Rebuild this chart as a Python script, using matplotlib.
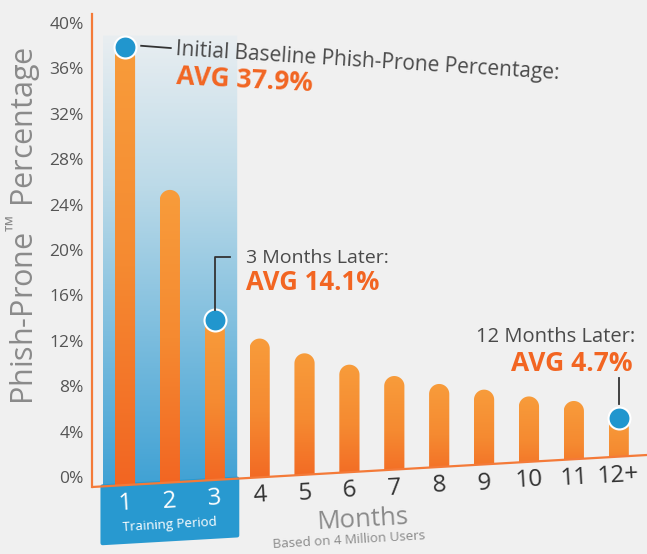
import numpy as np
import matplotlib.pyplot as plt
from matplotlib.patches import PathPatch, Polygon
from matplotlib.path import Path
from matplotlib.colors import LinearSegmentedColormap

plt.rcParams['font.family'] = ['Open Sans', 'DejaVu Sans']
plt.rcParams['mathtext.fontset'] = 'custom'
plt.rcParams['mathtext.rm'] = 'Open Sans'

# data
months = ["1", "2", "3", "4", "5", "6", "7", "8", "9", "10", "11", "12+"]
rates = [37.9, 25.3, 13.8, 12.2, 10.9, 9.9, 8.9, 8.2, 7.7, 7.1, 6.7, 5.2]
yticks = [0, 4, 8, 12, 16, 20, 24, 28, 32, 36, 40]
training = 3   # first three months are the training period

bg = "#F0F0F0"
orange_axis = "#F47A38"
orange_txt = "#F26522"
blue_dot = "#2196CE"
gray_txt = "#8A8A8A"
dark_txt = "#4A4A4A"

fig = plt.figure(figsize=(6.47, 5.54), dpi=100, facecolor=bg)
ax = fig.add_axes([92/647, 1-487/554, 555/647, 473/554])
ax.set_facecolor("none")

xlo, xhi = 0.265, 12.63
ylo, yhi = -0.88, 40.8
ax.set_xlim(xlo, xhi)
ax.set_ylim(ylo, yhi)

# the baseline tilts up to the right
tilt = 32/473
def base_y(x):
    return ylo + tilt*(yhi-ylo)*(x-xlo)/(xhi-xlo)

ang = np.degrees(np.arctan(32/555))

# px per data unit, to keep the round caps circular
px_x = 555/(xhi-xlo)
px_y = 473/(yhi-ylo)

xs = np.arange(1, len(months)+1)
w = 0.45
half = w/2
ry = half*px_x/px_y

grad = np.linspace(0, 1, 256).reshape(-1, 1)
bar_cmap = LinearSegmentedColormap.from_list("bar", ["#F26522", "#F58A31", "#F89C3B"])
blue_cmap = LinearSegmentedColormap.from_list("blu", ["#3FA1D4", "#7CBDDE", "#BCDAE8", "#E9EEF1"])

# training period shading
tx0, tx1 = 0.5, training+0.5
up = Polygon([(tx0, base_y(tx0)), (tx1, base_y(tx1)), (tx1, 38.9), (tx0, 38.9)],
             closed=True, transform=ax.transData, facecolor="none", edgecolor="none")
im = ax.imshow(grad, extent=(tx0, tx1, ylo, 38.9), origin="lower", aspect="auto",
               cmap=blue_cmap, zorder=1, interpolation="bilinear")
im.set_clip_path(up)

hb = 5.0
low = Polygon([(tx0, base_y(tx0)), (tx1, base_y(tx1)), (tx1, base_y(tx1)-hb), (tx0, base_y(tx0)-hb)],
              closed=True, facecolor="#2899D0", edgecolor="#2899D0", lw=3, joinstyle="round",
              clip_on=False, zorder=1)
ax.add_patch(low)

# bars with rounded tops and gradient fill
t = np.linspace(0, np.pi, 40)
for x, v in zip(xs, rates):
    verts = [(x-half, base_y(x-half)), (x+half, base_y(x+half))]
    verts += list(zip(x + half*np.cos(t), v - ry + ry*np.sin(t)))
    verts.append(verts[0])
    shape = PathPatch(Path(verts, closed=True), transform=ax.transData,
                      facecolor="none", edgecolor="none")
    bi = ax.imshow(grad, extent=(x-half, x+half, ylo, v), origin="lower", aspect="auto",
                   cmap=bar_cmap, zorder=3, interpolation="bilinear")
    bi.set_clip_path(shape)

ax.set_xlim(xlo, xhi)
ax.set_ylim(ylo, yhi)

# axes lines
ax.plot([xlo, xhi], [base_y(xlo), base_y(xhi)], color=orange_axis, lw=1.6, zorder=4,
        clip_on=False, solid_capstyle="butt")
for s in ["top", "right", "bottom"]:
    ax.spines[s].set_visible(False)
ax.spines["left"].set_color(orange_axis)
ax.spines["left"].set_linewidth(1.6)

ax.set_xticks([])
ax.set_yticks(yticks)
ax.set_yticklabels([f"{v}%" for v in yticks])
ax.tick_params(axis="y", length=0, pad=6, labelsize=12.5, labelcolor="#555555")

# month labels follow the tilted baseline
for i, (x, lab) in enumerate(zip(xs, months)):
    col = "white" if i < training else "#333333"
    ax.text(x, base_y(x)-1.65, lab, ha="center", va="center", rotation=ang,
            rotation_mode="anchor", fontsize=17.5, color=col, zorder=6, clip_on=False)

ax.text(2.0, -4.25, "Training Period", ha="center", va="center", rotation=ang,
        rotation_mode="anchor", fontsize=9.5, color="white", zorder=6)
ax.text(6.30, -3.75, "Months", ha="center", va="center", rotation=ang,
        rotation_mode="anchor", fontsize=18.5, color=gray_txt, zorder=6)
ax.text(5.99, -5.55, "Based on 4 Million Users", ha="center", va="center", rotation=ang,
        rotation_mode="anchor", fontsize=9.5, color=gray_txt, zorder=6)

fig.text(24/647, 1-226/554, "Phish-Prone$^{\\mathrm{\u2122}}$ Percentage", rotation=90,
         ha="center", va="center", fontsize=22, color=gray_txt)

# highlight dots
hi = [0, 2, 11]
ax.scatter(xs[hi], [rates[i] for i in hi], s=250, color=blue_dot, edgecolor="white",
           linewidth=1.5, zorder=5, clip_on=False)

# annotations
ax.plot([1.36, 2.02], [38.0, 37.8], color="#333333", lw=1.3, zorder=5)
ax.text(2.14, 37.7, "Initial Baseline Phish-Prone Percentage:", ha="left", va="center",
        rotation=-3.6, rotation_mode="anchor", fontsize=15, color=dark_txt, zorder=6)
ax.text(2.14, 35.3, "AVG 37.9%", ha="left", va="center", rotation=-3,
        rotation_mode="anchor", fontsize=19, fontweight="bold", color=orange_txt, zorder=6)

ax.plot([3, 3, 3.35], [14.7, 19.35, 19.35], color="#333333", lw=1.3, zorder=5)
ax.text(3.69, 19.3, "3 Months Later:", ha="left", va="center",
        fontsize=14, color=dark_txt, zorder=6)
ax.text(3.69, 17.1, "AVG 14.1%", ha="left", va="center",
        fontsize=18.5, fontweight="bold", color=orange_txt, zorder=6)

ax.plot([12, 12], [6.4, 8.7], color="#333333", lw=1.3, zorder=5)
ax.text(12.36, 12.3, "12 Months Later:", ha="right", va="center",
        fontsize=14.5, color=dark_txt, zorder=6)
ax.text(12.31, 9.96, "AVG 4.7%", ha="right", va="center",
        fontsize=19, fontweight="bold", color=orange_txt, zorder=6)

fig.savefig("out.png", dpi=100, facecolor=bg)
